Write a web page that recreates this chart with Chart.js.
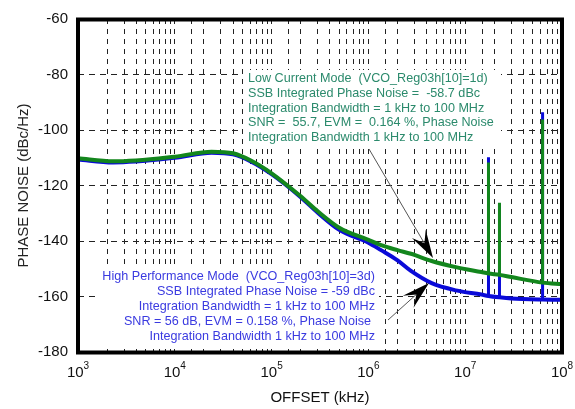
<!DOCTYPE html>
<html>
<head>
<meta charset="utf-8">
<script src="https://cdn.jsdelivr.net/npm/chart.js@4/dist/chart.umd.min.js"></script>
<style>
  html, body { margin: 0; padding: 0; background: #fff; }
  #wrap { width: 575px; height: 409px; position: relative; }
</style>
</head>
<body>
<div id="wrap"><canvas id="chart"></canvas></div>
<script>
// offset frequency (axis units) and phase noise (dBc/Hz)
const offsetHz = [1e3, 2.3e3, 1e4, 2.4e4, 4e4, 6.1e4, 1e5, 2e5, 3e5, 5e5, 1e6, 1.35e6, 2e6, 2.75e6, 4.5e6, 8e6, 1.47e7, 1.74e7, 2.26e7, 3e7, 6.3e7, 1e8];
const lowCurrent = [-110.2, -111.3, -109.6, -107.8, -108.4, -111, -115.6, -123.9, -129.3, -135.2, -139.6, -141.5, -143.3, -144.6, -147.2, -149.4, -151.2, -151.7, -152.2, -153, -155, -155.6];
const highPerf = [-110.6, -111.7, -110, -108.2, -108.8, -111.3, -115.9, -124.2, -129.8, -136, -140.6, -143.3, -147, -150.8, -155.2, -157.8, -159.3, -159.8, -160.3, -160.7, -161.1, -161.2];

// spurs
const spurHz = [1.74e7, 2.26e7, 6.3e7];
const lowCurrentSpurBase = [-151.7, -152.2, -155];
const lowCurrentSpurTop = [-111.7, -126.2, -96.2];
const highPerfSpurBase = [-159.8, -160.3, -161.1];
const highPerfSpurTop = [-109.8, -126.5, -93.6];

const yTicks = [-180, -160, -140, -120, -100, -80, -60];
const xDecades = [3, 4, 5, 6, 7, 8];

const lowCurrentNote = [
  "Low Current Mode  (VCO_Reg03h[10]=1d)",
  "SSB Integrated Phase Noise =  -58.7 dBc",
  "Integration Bandwidth = 1 kHz to 100 MHz",
  "SNR =  55.7, EVM =  0.164 %, Phase Noise",
  "Integration Bandwidth 1 kHz to 100 MHz"
];
const highPerfNote = [
  "High Performance Mode  (VCO_Reg03h[10]=3d)",
  "SSB Integrated Phase Noise = -59 dBc",
  "Integration Bandwidth = 1 kHz to 100 MHz",
  "SNR = 56 dB, EVM = 0.158 %, Phase Noise",
  "Integration Bandwidth 1 kHz to 100 MHz"
];

const GREEN = "#13861d";
const BLUE = "#0a0ad8";
const FONT = "'Liberation Sans', Arial, sans-serif";

function curve(vals) {
  return offsetHz.map((f, i) => ({ x: f, y: vals[i] }));
}
function spurs(base, top) {
  const pts = [];
  spurHz.forEach((f, i) => {
    pts.push({ x: f, y: base[i] }, { x: f, y: top[i] }, { x: f, y: null });
  });
  return pts;
}

function arrow(ctx, x0, y0, x1, y1) {
  const a = Math.atan2(y1 - y0, x1 - x0);
  const len = 28, half = 8, notch = 17;
  ctx.save();
  ctx.strokeStyle = "#555";
  ctx.lineWidth = 1;
  ctx.beginPath();
  ctx.moveTo(x0, y0);
  ctx.lineTo(x1 - Math.cos(a) * notch, y1 - Math.sin(a) * notch);
  ctx.stroke();
  ctx.translate(x1, y1);
  ctx.rotate(a);
  ctx.fillStyle = "#000";
  ctx.beginPath();
  ctx.moveTo(0, 0);
  ctx.lineTo(-len, -half);
  ctx.lineTo(-notch, 0);
  ctx.lineTo(-len, half);
  ctx.closePath();
  ctx.fill();
  ctx.restore();
}

const decor = {
  id: "decor",
  beforeDatasetsDraw(chart) {
    const ctx = chart.ctx;
    ctx.save();
    // note boxes cover the grid
    ctx.fillStyle = "#fff";
    ctx.fillRect(243, 70, 258, 76);
    ctx.fillRect(97, 267, 282, 79);
    ctx.font = "12.6px " + FONT;
    ctx.textBaseline = "middle";
    ctx.fillStyle = "#2b8a6c";
    ctx.textAlign = "left";
    lowCurrentNote.forEach((t, i) => ctx.fillText(t, 248, 79 + i * 14.6));
    ctx.fillStyle = "#3a3ae0";
    ctx.textAlign = "right";
    highPerfNote.forEach((t, i) => ctx.fillText(t, i === 3 ? 371 : 375, 277 + i * 15));
    ctx.restore();
  },
  afterDatasetsDraw(chart) {
    const ctx = chart.ctx;
    const { left, top, right, bottom } = chart.chartArea;
    arrow(ctx, 369, 149, 433, 258);
    arrow(ctx, 388, 320, 429, 283);
    ctx.save();
    ctx.strokeStyle = "#000";
    ctx.lineWidth = 4;
    ctx.strokeRect(left, top + 0.5, right - left, bottom - top);
    // x tick labels as 10^n
    const xs = chart.scales.x;
    ctx.fillStyle = "#111";
    ctx.textBaseline = "middle";
    ctx.textAlign = "left";
    xDecades.forEach(e => {
      const px = xs.getPixelForValue(Math.pow(10, e));
      ctx.font = "15px " + FONT;
      const w1 = ctx.measureText("10").width;
      ctx.font = "10px " + FONT;
      const w2 = ctx.measureText(String(e)).width;
      const x0 = px - (w1 + w2) / 2;
      ctx.font = "15px " + FONT;
      ctx.fillText("10", x0, 373);
      ctx.font = "10px " + FONT;
      ctx.fillText(String(e), x0 + w1, 366);
    });
    ctx.restore();
  }
};

new Chart(document.getElementById("chart"), {
  type: "line",
  data: {
    datasets: [
      { data: curve(lowCurrent), borderColor: GREEN, borderWidth: 4, pointRadius: 0, cubicInterpolationMode: "monotone" },
      { data: spurs(lowCurrentSpurBase, lowCurrentSpurTop), borderColor: GREEN, borderWidth: 3, pointRadius: 0, spanGaps: false },
      { data: curve(highPerf), borderColor: BLUE, borderWidth: 4, pointRadius: 0, cubicInterpolationMode: "monotone" },
      { data: spurs(highPerfSpurBase, highPerfSpurTop), borderColor: BLUE, borderWidth: 3, pointRadius: 0, spanGaps: false }
    ]
  },
  options: {
    responsive: true,
    maintainAspectRatio: false,
    animation: false,
    layout: { padding: { top: 17, right: 13, bottom: 0, left: 0 } },
    plugins: { legend: { display: false }, tooltip: { enabled: false } },
    scales: {
      x: {
        type: "logarithmic",
        min: 1e3,
        max: 1e8,
        afterFit: s => { s.height = 57; },
        ticks: { display: false, autoSkip: false },
        grid: { color: "#222", lineWidth: 1, drawTicks: false },
        border: { display: false, dash: [5, 5] },
        title: { display: true, text: "OFFSET (kHz)", color: "#111", font: { size: 15, family: FONT }, padding: { top: 0, bottom: 2 } }
      },
      y: {
        min: -180,
        max: -60,
        afterFit: s => { s.width = 78; },
        afterBuildTicks: s => { s.ticks = yTicks.map(v => ({ value: v })); },
        ticks: { color: "#111", font: { size: 15, family: FONT }, padding: 10 },
        grid: { color: "#222", lineWidth: 1, drawTicks: false },
        border: { display: false, dash: [6, 5] },
        title: { display: true, text: "PHASE NOISE (dBc/Hz)", color: "#222", font: { size: 15, family: FONT }, padding: { top: 15, bottom: 0 } }
      }
    }
  },
  plugins: [decor]
});
</script>
</body>
</html>
